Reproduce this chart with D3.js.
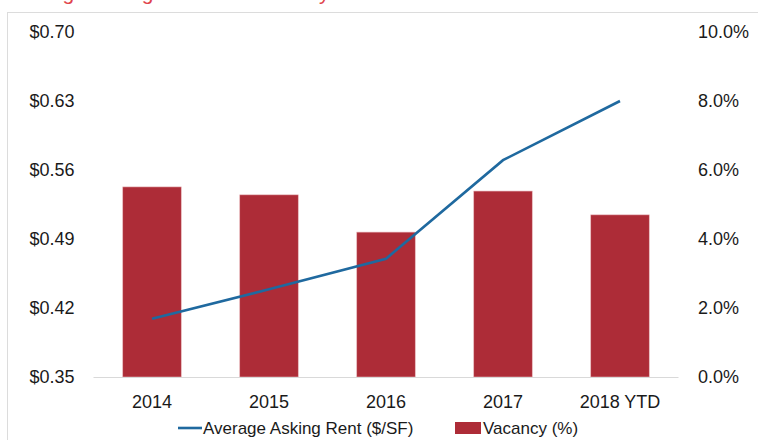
<!DOCTYPE html>
<html>
<head>
<meta charset="utf-8">
<script src="https://cdn.jsdelivr.net/npm/d3@7"></script>
<style>
  html, body { margin: 0; padding: 0; background: #fff; overflow: hidden; }
  svg { display: block; font-family: "Liberation Sans", Arial, sans-serif; }
</style>
</head>
<body>
<svg id="chart" width="758" height="440"></svg>
<script>
// chart data
var years = ["2014", "2015", "2016", "2017", "2018 YTD"];
var askingRent = [0.409, 0.439, 0.470, 0.570, 0.630];   // $/SF, left axis
var vacancy = [5.51, 5.28, 4.20, 5.39, 4.70];            // %, right axis
var rentTicks = [0.35, 0.42, 0.49, 0.56, 0.63, 0.70];
var vacancyTicks = [0, 2, 4, 6, 8, 10];

var svg = d3.select("#chart")
  , margin = {top: 32, left: 93.5, right: 79.5, bottom: 63}
  , width = 758 - margin.left - margin.right
  , height = 440 - margin.top - margin.bottom
  , barColor = "#ad2c37"
  , lineColor = "#1f699f";

// title sits mostly above the page edge, like in the source image
svg.append("text")
  .attr("x", 8).attr("y", 0)
  .style("font-size", "21px")
  .style("fill", "#e0434b")
  .text("Average Asking Rent and Vacancy Rate");

svg.append("rect")
  .attr("x", 7.5).attr("y", 12.5)
  .attr("width", 800).attr("height", 500)
  .attr("fill", "none")
  .attr("stroke", "#dcdcdc");

var g = svg.append("g")
  .attr("transform", "translate(" + margin.left + "," + margin.top + ")");

var x = d3.scaleBand().domain(years).range([0, width]).paddingInner(0.5).paddingOuter(0.25);
var yLeft = d3.scaleLinear().domain([0.35, 0.70]).range([height, 0]);
var yRight = d3.scaleLinear().domain([0, 10]).range([height, 0]);

// bars
g.selectAll("rect.bar")
  .data(vacancy)
  .enter().append("rect")
    .attr("class", "bar")
    .attr("x", function(d, i) { return x(years[i]); })
    .attr("y", function(d) { return yRight(d); })
    .attr("width", x.bandwidth())
    .attr("height", function(d) { return height - yRight(d); })
    .attr("fill", barColor)
    .attr("stroke", "#e8b7bb")
    .attr("stroke-width", 0.6);

// baseline
g.append("line")
  .attr("x1", 0).attr("x2", width)
  .attr("y1", height + 0.5).attr("y2", height + 0.5)
  .attr("stroke", "#d9d9d9")
  .attr("stroke-width", 1.2);

// rent line
var line = d3.line()
  .x(function(d, i) { return x(years[i]) + x.bandwidth() / 2; })
  .y(function(d) { return yLeft(d); });

g.append("path")
  .datum(askingRent)
  .attr("d", line)
  .attr("fill", "none")
  .attr("stroke", lineColor)
  .attr("stroke-width", 2.6);

// axes
var fmtRent = function(d) { return "$" + d.toFixed(2); }
  , fmtPct = function(d) { return d.toFixed(1) + "%"; };

var leftAxis = g.append("g")
  .attr("transform", "translate(-16,0)")
  .call(d3.axisLeft(yLeft).tickValues(rentTicks).tickFormat(fmtRent).tickSize(0));

var rightAxis = g.append("g")
  .attr("transform", "translate(" + (width + 16.5) + ",0)")
  .call(d3.axisRight(yRight).tickValues(vacancyTicks).tickFormat(fmtPct).tickSize(0));

var bottomAxis = g.append("g")
  .attr("transform", "translate(0," + (height + 15) + ")")
  .call(d3.axisBottom(x).tickSize(0));

[leftAxis, rightAxis, bottomAxis].forEach(function(a) {
  a.select(".domain").remove();
  a.selectAll("text")
    .style("font-family", "\"Liberation Sans\", Arial, sans-serif")
    .style("font-size", "18px")
    .style("fill", "#1a1a1a");
});

// legend
var legend = svg.append("g").attr("transform", "translate(0,428)");
legend.append("line")
  .attr("x1", 178).attr("x2", 202).attr("y1", 0).attr("y2", 0)
  .attr("stroke", lineColor).attr("stroke-width", 2.6);
legend.append("text")
  .attr("x", 203).attr("y", 6)
  .style("font-size", "17px").style("fill", "#1a1a1a")
  .text("Average Asking Rent ($/SF)");
legend.append("rect")
  .attr("x", 455).attr("y", -6).attr("width", 26).attr("height", 12)
  .attr("fill", barColor);
legend.append("text")
  .attr("x", 483).attr("y", 6)
  .style("font-size", "17px").style("fill", "#1a1a1a")
  .text("Vacancy (%)");
</script>
</body>
</html>
